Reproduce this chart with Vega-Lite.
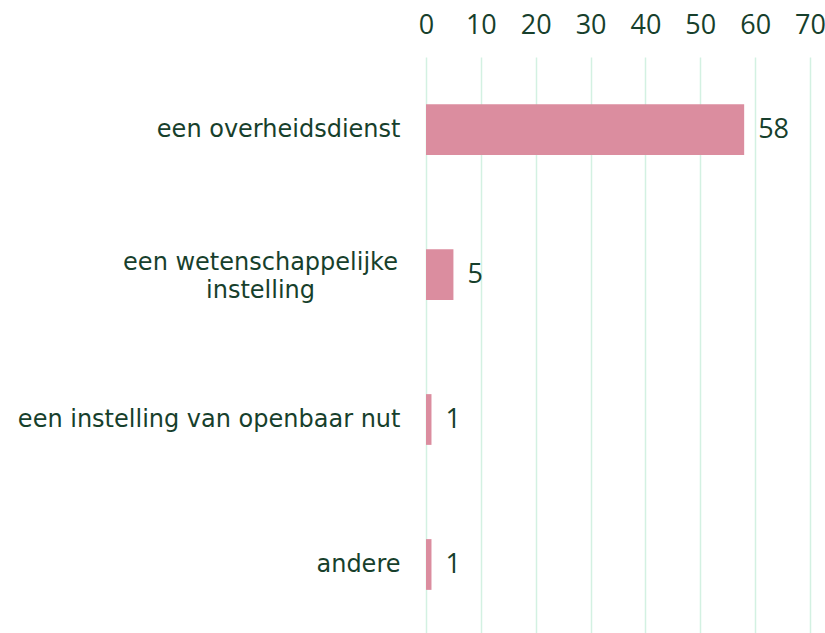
{
  "$schema": "https://vega.github.io/schema/vega-lite/v6.json",
  "autosize": "none",
  "padding": {"left": 426, "top": 57, "right": 15, "bottom": 0},
  "width": 384,
  "height": 580,
  "background": "white",
  "data": {
    "values": [
      {"categorie": "een overheidsdienst", "aantal": 58},
      {"categorie": "een wetenschappelijke instelling", "aantal": 5},
      {"categorie": "een instelling van openbaar nut", "aantal": 1},
      {"categorie": "andere", "aantal": 1}
    ]
  },
  "config": {
    "view": {"stroke": null},
    "font": "DejaVu Sans"
  },
  "encoding": {
    "y": {
      "field": "categorie",
      "type": "nominal",
      "sort": null,
      "scale": {"paddingInner": 0.65, "paddingOuter": 0.325},
      "axis": {
        "title": null,
        "domain": false,
        "ticks": false,
        "grid": false,
        "labelFont": "DejaVu Sans",
        "labelFontSize": 24,
        "labelColor": "#173f2c",
        "labelAlign": {"condition": {"test": "datum.value == 'een wetenschappelijke instelling'", "value": "center"}, "value": "right"},
        "labelPadding": {"condition": {"test": "datum.value == 'een wetenschappelijke instelling'", "value": 166}, "value": 26},
        "labelOffset": {"condition": {"test": "datum.value == 'een wetenschappelijke instelling'", "value": -12}, "value": 0},
        "labelLineHeight": 28,
        "labelLimit": 500,
        "labelExpr": "datum.value == 'een wetenschappelijke instelling' ? ['een wetenschappelijke', 'instelling'] : datum.value"
      }
    },
    "x": {
      "field": "aantal",
      "type": "quantitative",
      "scale": {"domain": [0, 70], "nice": false},
      "axis": {
        "orient": "top",
        "title": null,
        "domain": false,
        "ticks": false,
        "values": [0, 10, 20, 30, 40, 50, 60, 70],
        "grid": true,
        "gridColor": "#d3f1e2",
        "gridWidth": 1.5,
        "gridOpacity": 1,
        "labelFont": "Open Sans",
        "labelFontSize": 27,
        "labelColor": "#173f2c",
        "labelPadding": 18,
        "labelFlush": false
      }
    }
  },
  "layer": [
    {
      "mark": {"type": "bar", "color": "#db8d9f"}
    },
    {
      "mark": {
        "type": "text",
        "align": "left",
        "baseline": "middle",
        "dx": 14,
        "fontSize": 27,
        "font": "Open Sans",
        "color": "#173f2c"
      },
      "encoding": {"text": {"field": "aantal", "type": "quantitative"}}
    }
  ]
}
